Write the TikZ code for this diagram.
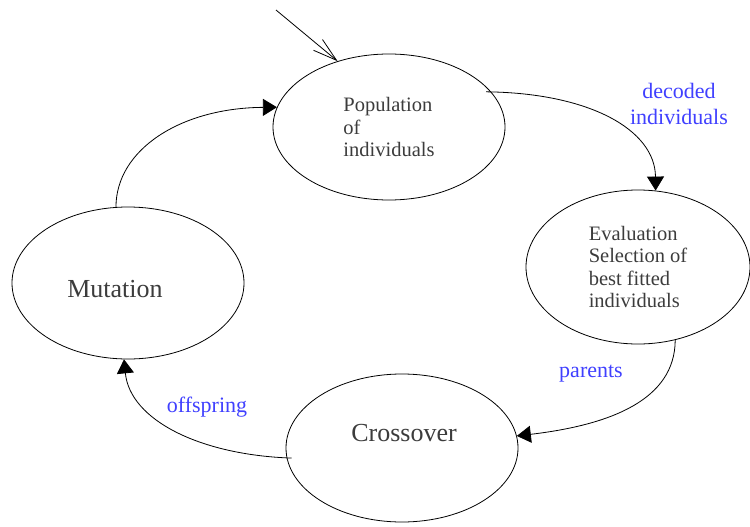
\documentclass[tikz,border=0pt]{standalone}
\usepackage{fontspec}
\setmainfont{Liberation Serif}
\usepackage{xcolor}
\usetikzlibrary{shapes.geometric,arrows.meta}
\definecolor{ink}{HTML}{000000}
\definecolor{txt}{HTML}{3C3C3C}
\definecolor{blu}{HTML}{4040FF}
\tikzset{
  state/.style={draw=ink, ellipse, line width=0.8pt, inner sep=0pt, text=txt},
  flow/.style={draw=ink, line width=0.8pt, -{Triangle[length=14pt,width=17pt]}},
  start/.style={draw=ink, line width=0.8pt, -{Straight Barb[length=24pt,width=14pt]}},
  mid/.style={text=txt, align=left, font=\fontsize{20.5}{22.5}\selectfont},
  big/.style={text=txt, font=\fontsize{26}{30}\selectfont},
  lab/.style={text=blu, align=center, font=\fontsize{22}{26}\selectfont},
}
\begin{document}
\begin{tikzpicture}[x=1pt, y=-1pt]
  \useasboundingbox (0,0) rectangle (750,527);
  % states
  \node[state, minimum width=232pt, minimum height=146pt, mid] (pop) at (389,127)
    {Population\\of\\individuals};
  \node[state, minimum width=224pt, minimum height=154pt, mid] (eval) at (638,267)
    {Evaluation\\Selection of\\best fitted\\individuals};
  \node[state, minimum width=232pt, minimum height=148pt] (cross) at (402,448) {};
  \node[state, minimum width=232pt, minimum height=152pt] (mut) at (128,283) {};
  \node[big] (crosstxt) at (404,433) {Crossover};
  \node[big] (muttxt) at (115,289) {Mutation};
  % transitions
  \coordinate (init) at (276,10);
  \draw[start] (init) -- (pop.128);
  \draw[flow] ([xshift=-5pt]pop.19) .. controls (590,93) and (655,130) .. (eval.77);
  \draw[flow] (eval.-63) .. controls (675,400) and (610,425) .. (cross.6);
  \draw[flow] ([xshift=5pt]cross.185) .. controls (200,455) and (130,420) .. (mut.267);
  \draw[flow] (mut.99) .. controls (116,150) and (180,108) .. (pop.170);
  % labels
  \node[lab] (dec) at (679,104) {decoded\\individuals};
  \node[lab] (par) at (591,374) {parents};
  \node[lab] (off) at (207,407) {offspring};
\end{tikzpicture}
\end{document}
